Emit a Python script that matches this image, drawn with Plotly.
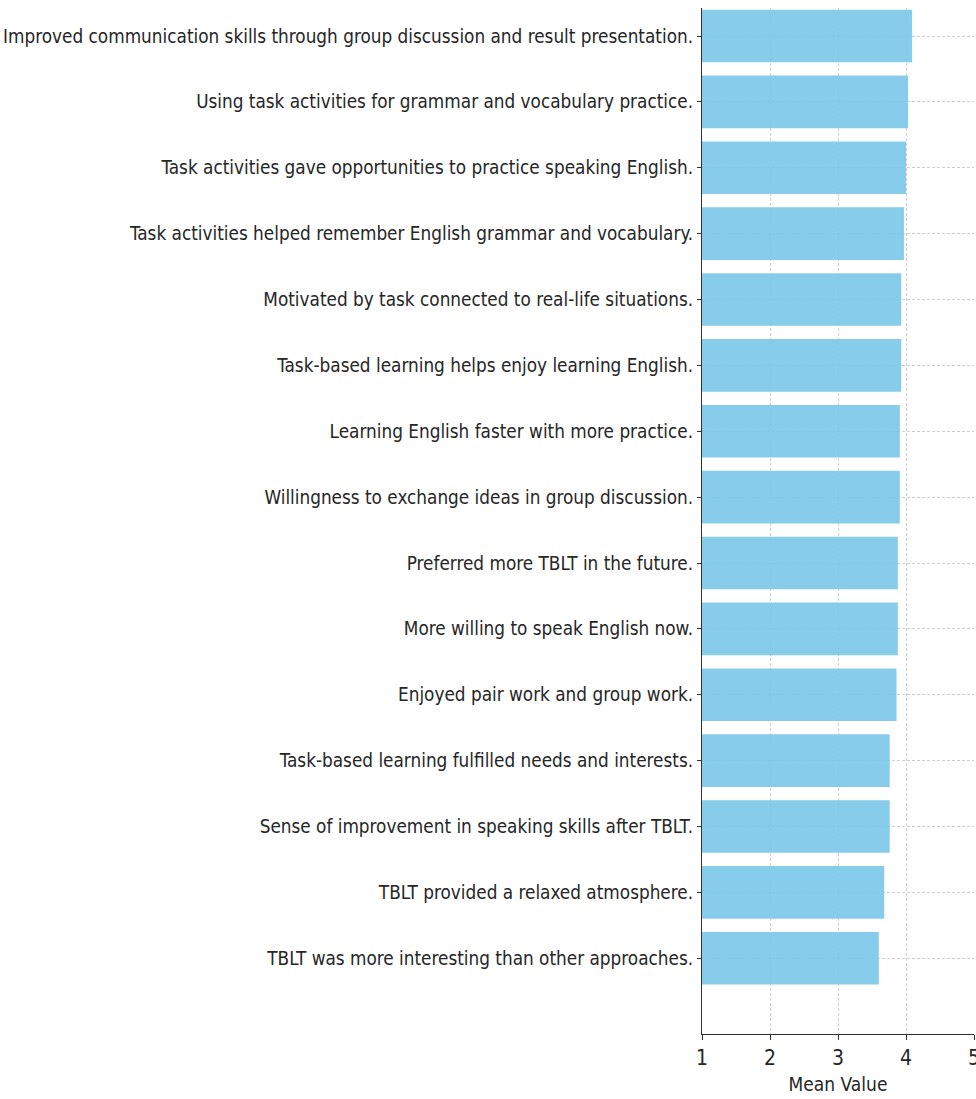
import plotly.graph_objects as go

categories = [
    "Improved communication skills through group discussion and result presentation.",
    "Using task activities for grammar and vocabulary practice.",
    "Task activities gave opportunities to practice speaking English.",
    "Task activities helped remember English grammar and vocabulary.",
    "Motivated by task connected to real-life situations.",
    "Task-based learning helps enjoy learning English.",
    "Learning English faster with more practice.",
    "Willingness to exchange ideas in group discussion.",
    "Preferred more TBLT in the future.",
    "More willing to speak English now.",
    "Enjoyed pair work and group work.",
    "Task-based learning fulfilled needs and interests.",
    "Sense of improvement in speaking skills after TBLT.",
    "TBLT provided a relaxed atmosphere.",
    "TBLT was more interesting than other approaches.",
]
mean_values = [4.09, 4.03, 4.00, 3.97, 3.93, 3.93, 3.91, 3.91, 3.88, 3.88, 3.86, 3.76, 3.76, 3.68, 3.60]
x_ticks = [1, 2, 3, 4, 5]
x_title = "Mean Value"

FONT = "DejaVu Sans Condensed, DejaVu Sans, sans-serif"
TXT = "#262626"

fig = go.Figure(
    go.Bar(
        x=[v - 1 for v in mean_values],
        base=1,
        y=categories,
        orientation="h",
        width=0.8,
        marker=dict(color="rgba(122,198,232,0.9)", line=dict(width=0)),
    )
)

fig.update_layout(
    width=976,
    height=1099,
    margin=dict(l=702, r=2, t=8, b=65),
    paper_bgcolor="white",
    plot_bgcolor="white",
    showlegend=False,
    font=dict(family=FONT, size=19, color=TXT),
    xaxis=dict(
        range=[1, 5],
        tickvals=x_ticks,
        ticktext=[str(t) for t in x_ticks],
        ticklabeloverflow="allow",
        automargin=False,
        showgrid=True,
        gridcolor="#cfcfcf",
        griddash="3px,2px",
        gridwidth=1,
        zeroline=False,
        showline=True,
        linecolor="#333333",
        linewidth=1.3,
        ticks="outside",
        ticklen=5,
        tickcolor="#333333",
        tickfont=dict(family=FONT, size=21, color=TXT),
        title=dict(text=x_title, font=dict(family=FONT, size=19, color=TXT), standoff=8),
    ),
    yaxis=dict(
        type="category",
        categoryorder="array",
        categoryarray=categories,
        range=[15.15, -0.425],
        showgrid=True,
        gridcolor="#cfcfcf",
        griddash="3px,2px",
        gridwidth=1,
        zeroline=False,
        showline=True,
        linecolor="#333333",
        linewidth=1.3,
        ticks="outside",
        ticklen=4,
        tickcolor="#333333",
        tickfont=dict(family=FONT, size=18.8, color=TXT),
        automargin=False,
    ),
)

fig.write_html(
    "out.html",
    config={"displayModeBar": False},
    post_script="document.body.style.margin='0';document.body.style.overflow='hidden';",
)
